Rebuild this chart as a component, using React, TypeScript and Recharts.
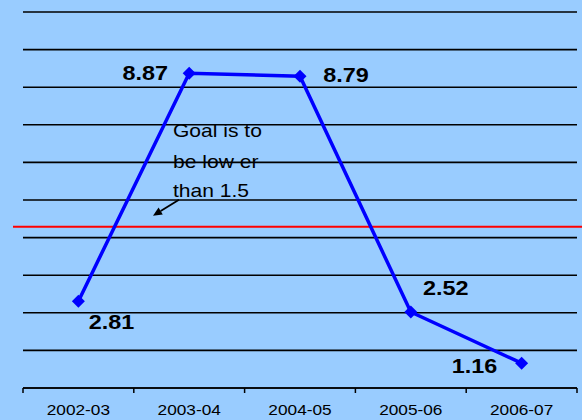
import React from 'react';
import { LineChart, Line, XAxis, YAxis, CartesianGrid, ReferenceLine, LabelList } from 'recharts';

// ---- data ----
const categories = ['2002-03', '2003-04', '2004-05', '2005-06', '2006-07'];
const values = [2.81, 8.87, 8.79, 2.52, 1.16];
const yTicks = [0.5, 1.5, 2.5, 3.5, 4.5, 5.5, 6.5, 7.5, 8.5, 9.5, 10.5];
const yDomain = [0.5, 10.5];
const goalLineValue = 4.79;
const annotationLines = ['Goal is to', 'be low er', 'than 1.5'];

// ---- layout / style ----
const CHART_W = 582;
const CHART_H = 420;
const MARGIN = { top: 12, right: 5, bottom: 2, left: 23 };
const BAND = (CHART_W - MARGIN.left - MARGIN.right) / categories.length;
const FONT = '"Liberation Sans", Arial, Helvetica, sans-serif';
const BG = '#99CCFF';
const LINE_BLUE = '#0000FF';
// label offsets (center of label relative to its point)
const LABEL_OFFSETS = [
  [33, 21],
  [-44, 0],
  [46, -1],
  [35, -24],
  [-47, 3],
];

const data = categories.map((c, i) => ({ period: c, value: values[i] }));

const StretchText = ({ x, y, sx, anchor, children, ...rest }: any) => (
  <text
    transform={`translate(${x},${y}) scale(${sx},1)`}
    x={0}
    y={0}
    textAnchor={anchor}
    fontFamily={FONT}
    fill="#000"
    {...rest}
  >
    {children}
  </text>
);

const Diamond = (props: any) => {
  const { cx, cy } = props;
  if (cx == null || cy == null) return null;
  const r = 6.5;
  return (
    <polygon
      points={`${cx},${cy - r} ${cx + r},${cy} ${cx},${cy + r} ${cx - r},${cy}`}
      fill={LINE_BLUE}
      stroke="none"
    />
  );
};

const AxisTick = (props: any) => {
  const { x, y, payload, index, visibleTicksCount } = props;
  const half = BAND / 2;
  return (
    <g>
      <line x1={x - half} x2={x - half} y1={y} y2={y + 5} stroke="#000" strokeWidth={1.5} />
      {index === visibleTicksCount - 1 && (
        <line x1={x + half} x2={x + half} y1={y} y2={y + 5} stroke="#000" strokeWidth={1.5} />
      )}
      <StretchText x={x} y={y + 27.4} sx={1.15} anchor="middle" fontSize={15}>
        {payload.value}
      </StretchText>
    </g>
  );
};

const DataLabel = (props: any) => {
  const { x, y, value, index } = props;
  const [dx, dy] = LABEL_OFFSETS[index] || [0, 0];
  return (
    <StretchText
      x={x + dx}
      y={y + dy + 7}
      sx={1.2}
      anchor="middle"
      fontSize={19.5}
      fontWeight="bold"
    >
      {Number(value).toFixed(2)}
    </StretchText>
  );
};

const GoalShape = (props: any) => {
  const { x1, y1, x2 } = props;
  const y = y1;
  // arrow
  const tail = { x: x1 + 156, y: y - 27 };
  const head = { x: x1 + 130, y: y - 11 };
  const vx = head.x - tail.x;
  const vy = head.y - tail.y;
  const len = Math.sqrt(vx * vx + vy * vy);
  const ux = vx / len;
  const uy = vy / len;
  const aL = 9;
  const aW = 4;
  const bx = head.x - ux * aL;
  const by = head.y - uy * aL;
  const p1 = `${head.x},${head.y}`;
  const p2 = `${bx - uy * aW},${by + ux * aW}`;
  const p3 = `${bx + uy * aW},${by - ux * aW}`;
  const baselines = [-90, -59, -30];
  return (
    <g>
      <line x1={x1 - 10} x2={x2 + 6} y1={y} y2={y} stroke="#FF0000" strokeWidth={2} />
      <line x1={tail.x} y1={tail.y} x2={bx} y2={by} stroke="#000" strokeWidth={1.8} />
      <polygon points={`${p1} ${p2} ${p3}`} fill="#000" />
      {annotationLines.map((t, i) => (
        <StretchText
          key={i}
          x={x1 + 150}
          y={y + baselines[i]}
          sx={1.17}
          anchor="start"
          fontSize={18}
        >
          {t}
        </StretchText>
      ))}
    </g>
  );
};

export default function App() {
  return (
    <div
      style={{
        position: 'absolute',
        left: 0,
        top: 0,
        width: CHART_W,
        height: CHART_H,
        background: BG,
      }}
    >
      <LineChart width={CHART_W} height={CHART_H} data={data} margin={MARGIN}>
        <CartesianGrid vertical={false} stroke="#000" strokeWidth={1.6} />
        <XAxis
          dataKey="period"
          interval={0}
          padding={{ left: BAND / 2, right: BAND / 2 }}
          height={30}
          axisLine={{ stroke: '#000', strokeWidth: 1.6 }}
          tickLine={false}
          tickSize={0}
          tickMargin={0}
          tick={<AxisTick />}
        />
        <YAxis hide type="number" domain={yDomain} ticks={yTicks} />
        <ReferenceLine y={goalLineValue} shape={<GoalShape />} ifOverflow="visible" />
        <Line
          type="linear"
          dataKey="value"
          stroke={LINE_BLUE}
          strokeWidth={3.5}
          dot={<Diamond />}
          activeDot={false}
          isAnimationActive={false}
        >
          <LabelList dataKey="value" content={<DataLabel />} />
        </Line>
      </LineChart>
    </div>
  );
}
